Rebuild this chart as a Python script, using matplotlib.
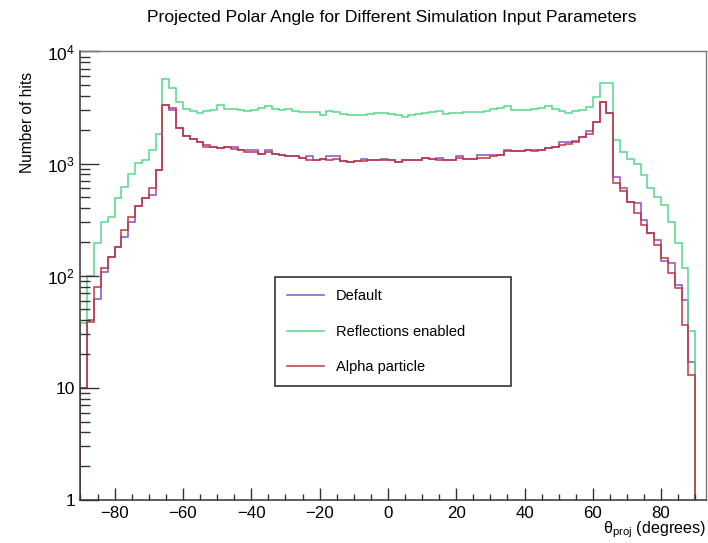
import numpy as np
import matplotlib
matplotlib.use("Agg")
import matplotlib.pyplot as plt
from matplotlib.ticker import LogLocator, FuncFormatter, MultipleLocator, NullFormatter

plt.rcParams["font.family"] = ["Liberation Sans", "DejaVu Sans"]
plt.rcParams["mathtext.fontset"] = "custom"
plt.rcParams["mathtext.rm"] = "Liberation Sans"
plt.rcParams["mathtext.it"] = "Liberation Sans:italic"

### DATA (2 degree bins, -90 .. 90)
edges = np.arange(-90, 92, 2)

default = [10, 40, 62, 109, 148, 182, 223, 303, 418, 489,
           523, 872, 3300, 3000, 2060, 1780, 1666, 1555, 1400, 1403,
           1386, 1403, 1403, 1312, 1312, 1312, 1227, 1312, 1227, 1186,
           1161, 1161, 1130, 1161, 1085, 1107, 1160, 1160, 1055, 1033,
           1055, 1107, 1085, 1070, 1107, 1085, 1033, 1085, 1070, 1085,
           1130, 1107, 1130, 1070, 1085, 1160, 1095, 1107, 1186, 1186,
           1200, 1186, 1312, 1286, 1286, 1331, 1331, 1331, 1386, 1403,
           1555, 1555, 1580, 1722, 1950, 2338, 3520, 2812, 760, 600,
           456, 442, 314, 239, 209, 135, 130, 83, 61, 17]

reflections = [38, 100, 195, 303, 336, 490, 613, 804, 1012, 1085,
               1330, 1845, 5680, 4720, 3520, 3075, 2970, 2810, 2930, 3000,
               3340, 3075, 3075, 3030, 2970, 3030, 3120, 3250, 3075, 3010,
               3075, 2970, 2870, 2870, 2870, 2740, 2930, 2870, 2780, 2720,
               2720, 2720, 2780, 2810, 2810, 2780, 2720, 2630, 2720, 2780,
               2810, 2870, 2930, 2780, 2810, 2840, 2870, 2870, 2910, 2970,
               3075, 3140, 3290, 3010, 3010, 3010, 3075, 3140, 3290, 3075,
               2970, 2810, 2930, 3030, 3230, 3900, 5240, 5240, 1610, 1268,
               1108, 1000, 787, 600, 505, 427, 303, 195, 117, 32]

alpha = [10, 39, 80, 117, 148, 182, 256, 336, 418, 489,
         600, 872, 3340, 3110, 2060, 1780, 1666, 1555, 1452, 1403,
         1386, 1403, 1359, 1312, 1268, 1268, 1227, 1268, 1227, 1186,
         1161, 1161, 1130, 1085, 1085, 1107, 1085, 1107, 1055, 1033,
         1055, 1055, 1085, 1070, 1070, 1085, 1033, 1085, 1070, 1085,
         1130, 1107, 1085, 1070, 1085, 1130, 1095, 1107, 1130, 1130,
         1161, 1186, 1295, 1286, 1286, 1312, 1286, 1331, 1386, 1403,
         1452, 1505, 1555, 1722, 1845, 2338, 3520, 2812, 665, 571,
         456, 365, 284, 239, 188, 144, 106, 78, 36, 13]

labels = ["Default", "Reflections enabled", "Alpha particle"]
colors = ["#8a4fc7", "#55d98a", "#c2373f"]

### PLOT
fig = plt.figure(figsize=(7.08, 5.43), dpi=100)
ax = fig.add_axes([0.1137, 0.0792, 0.8828, 0.826])

for vals, lab, col in zip([default, reflections, alpha], labels, colors):
    ax.stairs(vals, edges, baseline=1, color=col, lw=1.1, label=lab)

ax.set_yscale("log")
ax.set_xlim(-90, 93)
ax.set_ylim(1, 1e4)

# ROOT-ish axes
for side in ["left", "bottom"]:
    ax.spines[side].set_color("#333333")
    ax.spines[side].set_linewidth(1.1)
for side in ["top", "right"]:
    ax.spines[side].set_color("#777777")
    ax.spines[side].set_linewidth(1.0)

ax.xaxis.set_major_locator(MultipleLocator(20))
ax.xaxis.set_minor_locator(MultipleLocator(5))
ax.xaxis.set_major_formatter(FuncFormatter(lambda v, p: "%d" % v if v >= 0 else "\u2212%d" % -v))
ax.yaxis.set_major_locator(LogLocator(base=10, numticks=10))
ax.yaxis.set_minor_locator(LogLocator(base=10, subs=np.arange(2, 10), numticks=20))
ax.yaxis.set_minor_formatter(NullFormatter())

def ylab(v, p):
    if v < 5:
        return "1"
    if v < 50:
        return "10"
    return r"$10^{%d}$" % int(round(np.log10(v)))

ax.yaxis.set_major_formatter(FuncFormatter(ylab))

ax.tick_params(axis="x", which="major", direction="in", length=8.5, width=1, labelsize=12.2, pad=4, color="#333333")
ax.tick_params(axis="x", which="minor", direction="in", length=4.3, width=1, color="#333333")
ax.tick_params(axis="y", which="major", direction="in", length=13.5, width=1, labelsize=12.5, pad=4, color="#333333")
ax.tick_params(axis="y", which="minor", direction="in", length=7, width=1, color="#333333")

leg = ax.legend(loc="upper left", bbox_to_anchor=(0.311, 0.2475, 0.378, 0.2495), mode="expand",
                borderaxespad=0, fancybox=False, edgecolor="#333333", framealpha=1,
                fontsize=10.5, handlelength=2.6, handletextpad=0.8, labelspacing=1.5, borderpad=0.8)
leg.get_frame().set_linewidth(1.2)

fig.text(0.554, 0.967, "Projected Polar Angle for Different Simulation Input Parameters",
         ha="center", va="center", fontsize=12.6)
fig.text(0.0395, 0.867, "Number of hits", rotation=90, ha="center", va="top", fontsize=11.2)
fig.text(0.997, 0.005, r"$\mathrm{\theta_{proj}}$ (degrees)", ha="right", va="bottom", fontsize=11.6)

fig.savefig("out.png", dpi=100)
